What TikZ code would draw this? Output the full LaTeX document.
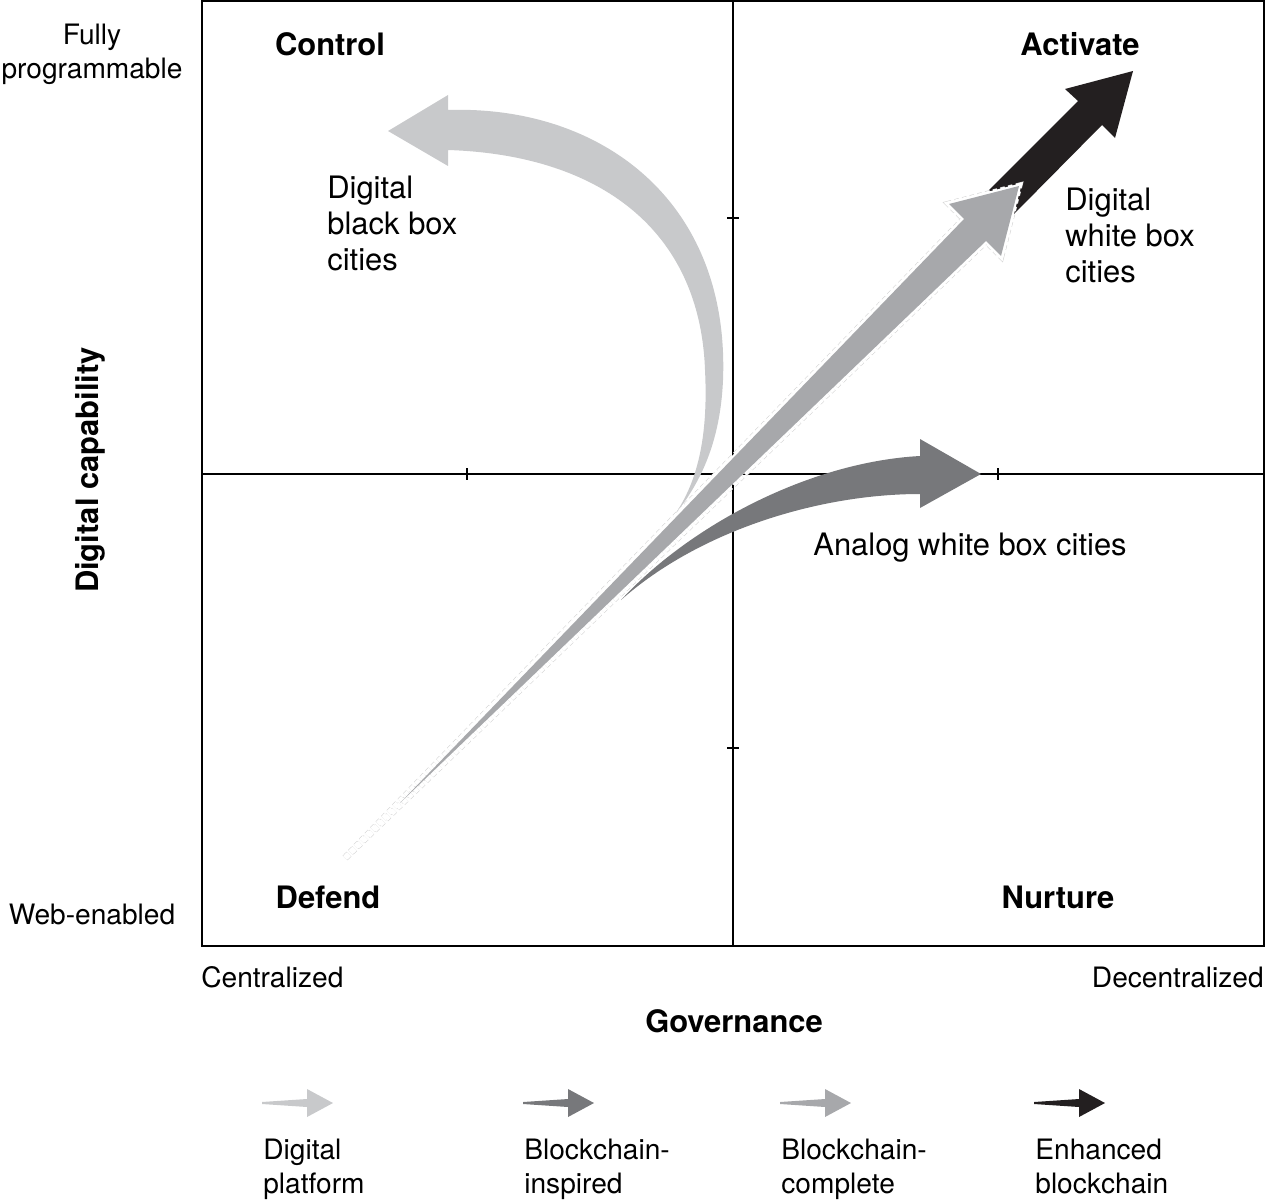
\documentclass[tikz,border=0pt]{standalone}
\usepackage{fontspec}
\setmainfont{TeX Gyre Heros}
\usetikzlibrary{positioning}
\definecolor{platgray}{HTML}{C8C9CB}
\definecolor{inspgray}{HTML}{77787B}
\definecolor{complgray}{HTML}{A7A8AB}
\definecolor{enhblack}{HTML}{231F20}

\begin{document}
\begin{tikzpicture}[x=0.02cm, y=-0.02cm,
    quad/.style={font=\fontsize{17.6}{20.5}\selectfont\bfseries, inner sep=0},
    lbl/.style={font=\fontsize{17.6}{20.5}\selectfont, inner sep=0, align=left},
    axlbl/.style={font=\fontsize{16}{19.3}\selectfont, inner sep=0},
    tick/.style={line width=0.7pt}]
  \useasboundingbox (0,0) rectangle (1266,1199);

  % Quadrants
  \draw[line width=1.1pt] (202,1) rectangle (1264,946);
  \draw[line width=1.1pt] (733,1) -- (733,946);
  \draw[line width=0.8pt] (202,474) -- (1264,474);
  \foreach \x in {467,998} \draw[tick] (\x,468) -- (\x,480);
  \foreach \y in {218,748} \draw[tick] (727,\y) -- (739,\y);

  % Digital platform
  \fill[platgray] (448,110) .. controls (600,105) and (730,200) .. (723,380)
    .. controls (720,450) and (695,490) .. (673,517)
    .. controls (700,480) and (708,430) .. (705,370)
    .. controls (700,230) and (600,155) .. (448,150)
    -- (448,166) -- (388,131) -- (448,95) -- cycle;

  % Blockchain-inspired
  \fill[inspgray] (621,600) .. controls (690,525) and (810,462) .. (920,456)
    -- (920,439) -- (981,474) -- (920,508) -- (920,494)
    .. controls (820,494) and (700,530) .. (621,600) -- cycle;

  % Enhanced blockchain
  \fill[enhblack] (989,190) -- (1078,101) -- (1065,89) -- (1133,71)
    -- (1115,138) -- (1102,125) -- (1013,215) -- cycle;

  % Blockchain-complete
  \draw[black!18, line width=0.3pt, dash pattern=on 2.5pt off 2pt,
    double=white, double distance=3.2pt]
    (345,858) -- (964,219) -- (949,204) -- (1019,186) -- (1001,256) -- (986,241) -- cycle;
  \draw[white, line width=2.4pt, line join=miter]
    (460,740) -- (964,219) -- (949,204) -- (1019,186) -- (1001,256) -- (986,241) -- cycle;
  \fill[complgray] (400,803) -- (964,219) -- (949,204) -- (1019,186)
    -- (1001,256) -- (986,241) -- cycle;

  % Labels
  \node[quad] (control) at (330,44) {Control};
  \node[quad] (activate) at (1080,44) {Activate};
  \node[quad] (defend) at (328,897) {Defend};
  \node[quad] (nurture) at (1058,897) {Nurture};
  \node[lbl, anchor=west] (blackbox) at (327,223) {Digital\\black box\\cities};
  \node[lbl, anchor=west] (whitebox) at (1065,235) {Digital\\white box\\cities};
  \node[lbl] (analog) at (970,548) {Analog white box cities};

  % Axes
  \node[axlbl, align=center] (fully) at (92,54) {Fully\\programmable};
  \node[axlbl] (web) at (92,914) {Web-enabled};
  \node[axlbl, anchor=west] (cent) at (201,977) {Centralized};
  \node[axlbl, anchor=east] (decent) at (1264,977) {Decentralized};
  \node[quad] (gov) at (734,1021) {Governance};
  \node[quad, rotate=90] (digcap) at (90,470) {Digital capability};

  % Legend
  \foreach \x/\col/\la/\lb [count=\i] in {262/platgray/Digital/platform,
      523/inspgray/Blockchain-/inspired, 780/complgray/Blockchain-/complete,
      1034/enhblack/Enhanced/blockchain} {
    \fill[\col] (\x,1102) -- (\x+45,1099) -- (\x+45,1089) -- (\x+71,1103)
      -- (\x+45,1117) -- (\x+45,1107) -- (\x,1104) -- cycle;
    \node[lbl, font=\fontsize{16}{19.3}\selectfont, anchor=north west] (leg\i) at (\x+1,1139) {\la\\\lb};
  }
\end{tikzpicture}
\end{document}
